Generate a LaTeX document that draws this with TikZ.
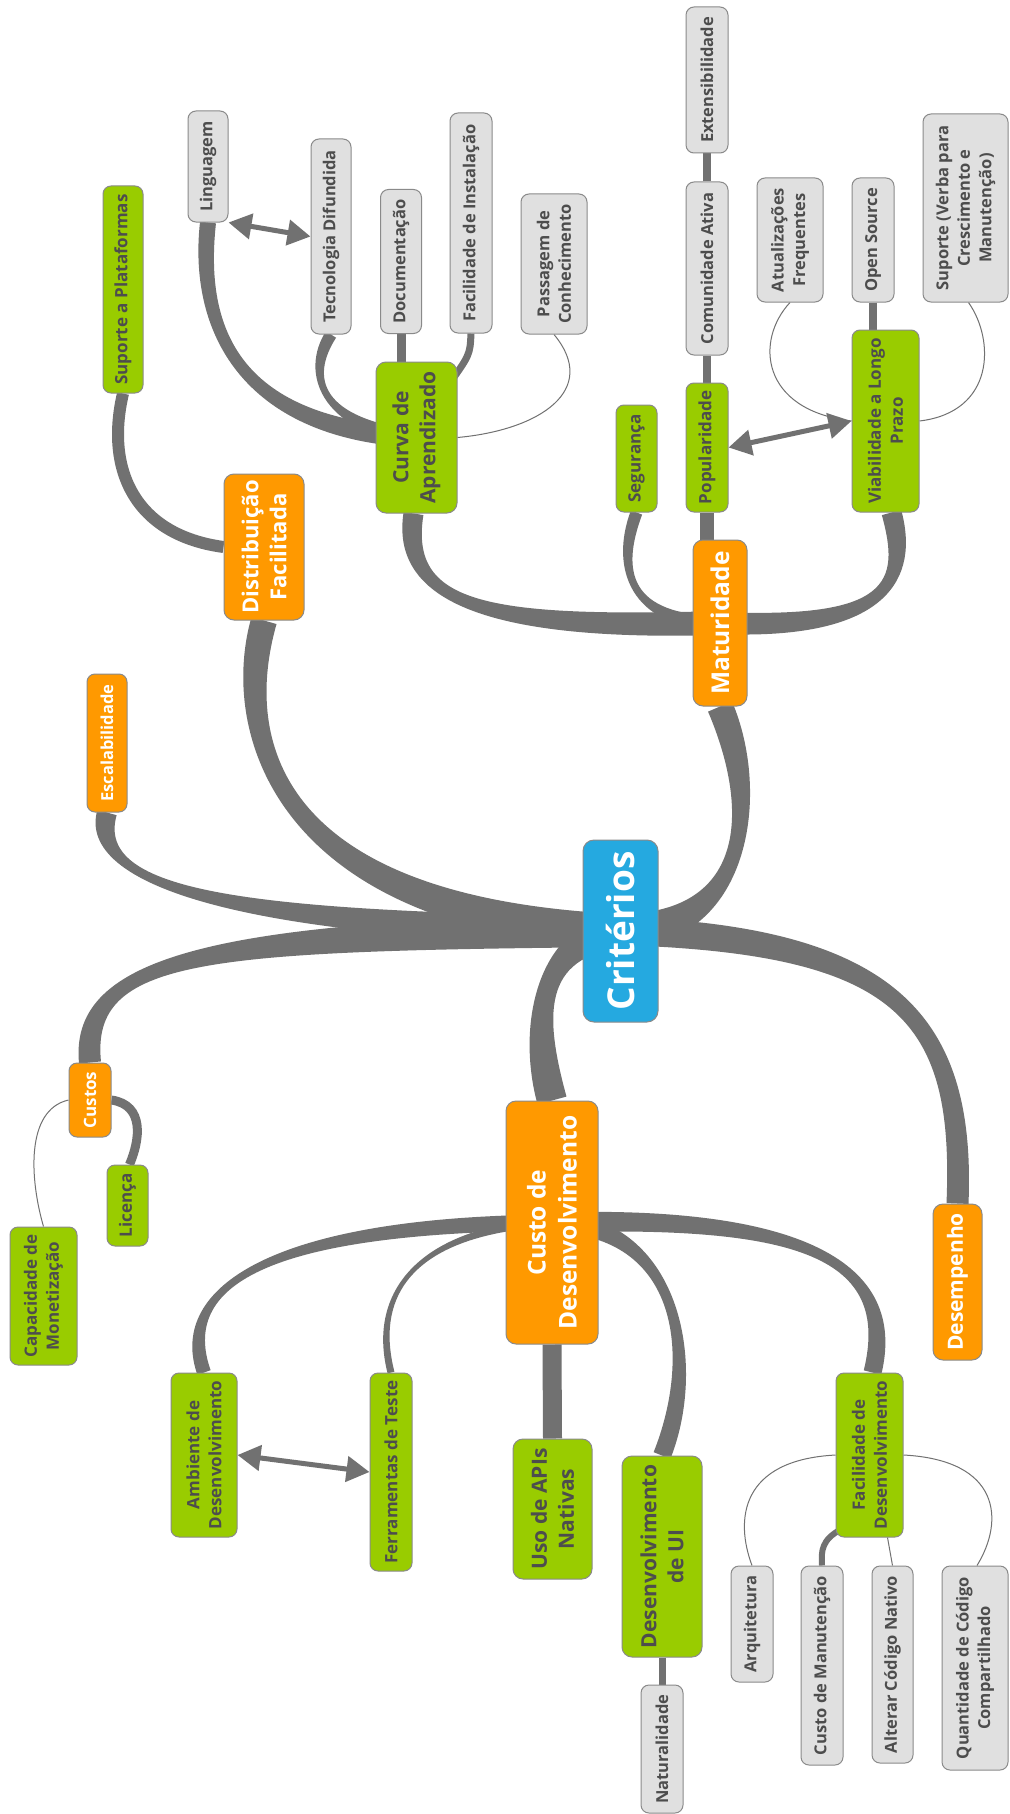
\documentclass[tikz,border=0pt]{standalone}
\usepackage{fontspec}
\setmainfont{Open Sans}
\usetikzlibrary{calc,arrows.meta}
\pgfdeclarelayer{bg}
\pgfsetlayers{bg,main}
\definecolor{conn}{HTML}{717171}
\definecolor{bordc}{HTML}{8A8A8A}
\definecolor{grayfill}{HTML}{E0E0E0}
\definecolor{greenfill}{HTML}{99CC00}
\definecolor{orangefill}{HTML}{FF9900}
\definecolor{bluefill}{HTML}{25A9E0}
\definecolor{txtc}{HTML}{4D4D4D}
\newcommand\taperline[6]{%
  \coordinate (tA) at #1; \coordinate (tC) at #2; \coordinate (tD) at #3; \coordinate (tB) at #4;
  \coordinate (ap) at ($(tA)!#5!90:(tC)$);
  \coordinate (am) at ($(tA)!#5!-90:(tC)$);
  \coordinate (bp) at ($(tB)!#6!-90:(tD)$);
  \coordinate (bm) at ($(tB)!#6!90:(tD)$);
  \coordinate (cp) at ($(tC)+(ap)-(tA)$);
  \coordinate (cm) at ($(tC)+(am)-(tA)$);
  \coordinate (dp) at ($(tD)+(bp)-(tB)$);
  \coordinate (dm) at ($(tD)+(bm)-(tB)$);
  \fill[conn] (ap) .. controls (cp) and (dp) .. (bp) -- (bm) .. controls (dm) and (cm) .. (am) -- cycle;
}
\tikzset{
  box/.style={rounded corners=8pt, draw=bordc, line width=1pt, rotate=90, align=center, inner sep=1pt},
  graybox/.style={box, fill=grayfill, text=txtc, font=\bfseries\fontsize{16.5}{21.5}\selectfont},
  greenbox/.style={box, fill=greenfill, text=txtc, font=\bfseries\fontsize{17}{22}\selectfont},
  greenbig/.style={box, fill=greenfill, text=txtc, rounded corners=10pt, font=\bfseries\fontsize{21}{27}\selectfont},
  orangebox/.style={box, fill=orangefill, text=white, font=\bfseries\fontsize{17}{22}\selectfont},
  orangebig/.style={box, fill=orangefill, text=white, rounded corners=10pt, font=\bfseries\fontsize{22}{28}\selectfont},
  centralbox/.style={box, fill=bluefill, text=white, rounded corners=11pt, font=\bfseries\fontsize{37}{44}\selectfont},
  thinc/.style={draw=conn, line width=1pt},
  medc/.style={draw=conn, line width=8pt},
  dbl/.style={draw=conn, line width=5pt, {Triangle[width=25pt,length=23pt]}-{Triangle[width=25pt,length=23pt]}}
}
\begin{document}
\begin{tikzpicture}[x=1pt,y=-1pt]
\useasboundingbox (0,0) rectangle (1009,1814);
\begin{pgfonlayer}{bg}
\fill[white] (0,0) rectangle (1009,1814);
\end{pgfonlayer}
% central
\node[centralbox, minimum width=182, minimum height=75] (crit) at (620.5,931) {Critérios};
% level 1
\node[orangebig, minimum width=146, minimum height=80] (dist) at (264,547) {Distribuição\\Facilitada};
\node[orangebig, font=\bfseries\fontsize{24.5}{30}\selectfont, minimum width=166, minimum height=54] (mat) at (720,623) {Maturidade};
\node[orangebox, font=\bfseries\fontsize{16.5}{21}\selectfont, minimum width=138, minimum height=40] (esc) at (107,743) {Escalabilidade};
\node[orangebox, minimum width=74, minimum height=42] (custos) at (90,1100) {Custos};
\node[orangebig, font=\bfseries\fontsize{24.5}{31}\selectfont, minimum width=243, minimum height=92] (cdes) at (552,1222.5) {Custo de\\Desenvolvimento};
\node[orangebig, font=\bfseries\fontsize{21}{27}\selectfont, minimum width=156, minimum height=49] (desemp) at (957.5,1282) {Desempenho};
% level 2
\node[greenbox, minimum width=207, minimum height=40] (sup) at (123,289.5) {Suporte a Plataformas};
\node[greenbig, minimum width=151, minimum height=81] (curva) at (416.5,437.5) {Curva de\\Aprendizado};
\node[greenbox, minimum width=107, minimum height=41] (seg) at (636.5,458.5) {Segurança};
\node[greenbox, minimum width=129, minimum height=42] (pop) at (707,447.5) {Popularidade};
\node[greenbox, minimum width=182, minimum height=67] (viab) at (885.5,421) {Viabilidade a Longo\\Prazo};
\node[greenbox, minimum width=81, minimum height=41] (lic) at (127.5,1205.5) {Licença};
\node[greenbox, minimum width=138, minimum height=67] (cap) at (43.5,1296) {Capacidade de\\Monetização};
\node[greenbox, minimum width=164, minimum height=66] (amb) at (204,1455) {Ambiente de\\Desenvolvimento};
\node[greenbox, minimum width=198, minimum height=42] (fer) at (391,1472) {Ferramentas de Teste};
\node[greenbig, minimum width=140, minimum height=79] (apis) at (552.5,1509) {Uso de APIs\\Nativas};
\node[greenbig, minimum width=201, minimum height=80] (ui) at (662,1556.5) {Desenvolvimento\\de UI};
\node[greenbox, minimum width=164, minimum height=67] (facdes) at (869.5,1455) {Facilidade de\\Desenvolvimento};
% level 3
\node[graybox, minimum width=111, minimum height=40] (ling) at (208,166.5) {Linguagem};
\node[graybox, minimum width=195, minimum height=40] (tec) at (331,236.5) {Tecnologia Difundida};
\node[graybox, minimum width=144, minimum height=41] (doc) at (401,261.5) {Documentação};
\node[graybox, minimum width=220, minimum height=42] (finst) at (471,223) {Facilidade de Instalação};
\node[graybox, minimum width=140, minimum height=66] (pass) at (554,264) {Passagem de\\Conhecimento};
\node[graybox, minimum width=146, minimum height=42] (ext) at (707,80) {Extensibilidade};
\node[graybox, minimum width=173, minimum height=42] (com) at (707,268.5) {Comunidade Ativa};
\node[graybox, minimum width=124, minimum height=66] (atu) at (790,240) {Atualizações\\Frequentes};
\node[graybox, minimum width=124, minimum height=42] (os) at (873,240) {Open Source};
\node[graybox, minimum width=188, minimum height=85] (verba) at (965.5,208) {Suporte (Verba para\\Crescimento e\\Manutenção)};
\node[graybox, minimum width=128, minimum height=42] (nat) at (662,1749) {Naturalidade};
\node[graybox, minimum width=116, minimum height=42] (arq) at (752,1624) {Arquitetura};
\node[graybox, minimum width=199, minimum height=42] (cman) at (822,1665.5) {Custo de Manutenção};
\node[graybox, minimum width=197, minimum height=41] (alt) at (892.5,1664.5) {Alterar Código Nativo};
\node[graybox, minimum width=204, minimum height=66] (quant) at (975,1668) {Quantidade de Código\\Compartilhado};

\begin{pgfonlayer}{bg}
% main branches
\taperline{(crit.center)}{(750,930)}{(760,800)}{(mat.west)}{17pt}{13pt}
\taperline{(crit.center)}{(280,915)}{(230,740)}{(dist.west)}{17pt}{13pt}
\taperline{(crit.center)}{(250,925)}{(85,890)}{(esc.west)}{14pt}{10pt}
\taperline{(crit.center)}{(200,935)}{(80,960)}{(custos.east)}{16pt}{11pt}
\taperline{(crit.center)}{(540,940)}{(530,1020)}{(cdes.east)}{17pt}{15pt}
\taperline{(crit.center)}{(900,940)}{(965,1020)}{(desemp.east)}{14pt}{11pt}
% maturidade
\taperline{(mat.center)}{(480,630)}{(400,600)}{($(curva.west)+(-3,0)$)}{12pt}{10pt}
\taperline{(mat.center)}{(630,622)}{(615,570)}{(seg.west)}{7pt}{6pt}
\taperline{(mat.center)}{(890,630)}{(910,580)}{($(viab.west)+(6,0)$)}{11pt}{10pt}
\draw[medc, line width=14pt] (pop.west) -- (pop.west |- mat.center);
% curva
\taperline{(curva.center)}{(250,430)}{(195,340)}{(ling.west)}{10pt}{8pt}
\taperline{(curva.center)}{(320,425)}{(305,375)}{(tec.west)}{7pt}{6pt}
\draw[medc, line width=9pt] (doc.west) -- (doc.west |- curva.center);
\draw[medc, line width=7pt] (finst.west) .. controls (470,355) .. ($(curva.center)+(30,-50)$);
\draw[thinc] (curva.south) .. controls (540,430) and (600,390) .. ($(pass.west)$);
\draw[dbl] (ling.south west) -- (tec.north);
% distribuicao
\draw[medc, line width=12pt] (dist.north) .. controls (135,535) and (105,470) .. (sup.west);
% popularidade
\draw[medc] (pop.east) -- (com.west);
\draw[medc] (com.east) -- (ext.west);
\draw[dbl] (pop.south) -- (viab.north);
% viabilidade
\draw[medc] (os.west) -- (os.west |- viab.center);
\draw[thinc] (viab.north) .. controls (760,410) and (755,340) .. (atu.west);
\draw[thinc] (viab.south) .. controls (995,412) and (995,340) .. ($(verba.west)+(3,0)$);
% custos
\draw[medc, line width=9pt] (custos.south) .. controls (145,1105) and (140,1140) .. ($(lic.east)+(2,0)$);
\draw[thinc] (custos.north) .. controls (25,1110) and (30,1180) .. (cap.east);
% custo de desenvolvimento
\taperline{(cdes.center)}{(260,1225)}{(175,1290)}{(amb.east)}{8pt}{7pt}
\taperline{(cdes.center)}{(420,1230)}{(370,1290)}{(fer.east)}{4pt}{3.5pt}
\draw[medc, line width=19pt] (cdes.west) -- (apis.east);
\taperline{(cdes.center)}{(680,1225)}{(700,1360)}{(ui.east)}{10pt}{9pt}
\taperline{(cdes.center)}{(800,1215)}{(900,1260)}{($(facdes.east)+(3,0)$)}{10pt}{9pt}
\draw[dbl] (amb.south) -- (fer.north);
% UI and facilidade
\draw[medc, line width=7pt] (ui.west) -- (nat.east);
\draw[thinc] (facdes.north) .. controls (740,1460) and (735,1520) .. (arq.east);
\draw[medc, line width=6pt] ($(facdes.north west)+(5,-8)$) .. controls (822,1540) and (821,1550) .. (cman.east);
\draw[thinc] ($(facdes.west)+(18,0)$) -- (alt.east);
\draw[thinc] (facdes.south) .. controls (1000,1460) and (1005,1520) .. ($(quant.east)+(2,0)$);
\end{pgfonlayer}
\end{tikzpicture}
\end{document}
